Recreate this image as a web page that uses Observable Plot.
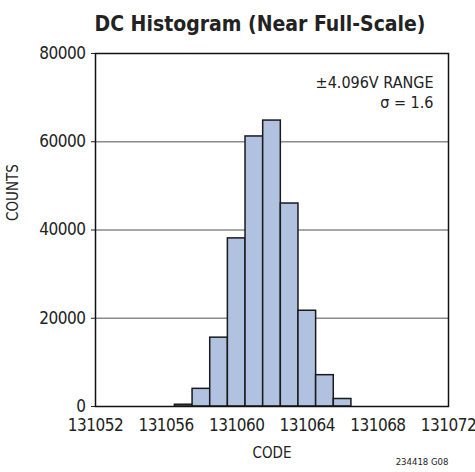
<!DOCTYPE html>
<html>
<head>
<meta charset="utf-8">
<script src="https://cdn.jsdelivr.net/npm/d3@7"></script>
<script src="https://cdn.jsdelivr.net/npm/@observablehq/plot@0.6"></script>
<style>
  html, body { margin: 0; padding: 0; background: #fff; }
  #chart svg { display: block; }
  #chart svg [aria-label$="tick label"] text { letter-spacing: -0.5px; }
</style>
</head>
<body>
<div id="chart"></div>
<script>
const codes = [131057, 131058, 131059, 131060, 131061, 131062, 131063, 131064, 131065, 131066];
const counts = [400, 4000, 15600, 38100, 61200, 64800, 46000, 21700, 7100, 1700];
const xTicks = [131052, 131056, 131060, 131064, 131068, 131072];
const yTicks = [0, 20000, 40000, 60000, 80000];
const gridLines = [20000, 40000, 60000];
const titleText = "DC Histogram (Near Full-Scale)";
const annotation = ["±4.096V RANGE", "σ = 1.6"];
const footnote = "234418 G08";

const bars = codes.map((c, i) => ({code: c, count: counts[i]}));
const font = "'DejaVu Sans Condensed', 'Liberation Sans Narrow', 'Liberation Sans', sans-serif";

const chart = Plot.plot({
  width: 475,
  height: 472,
  marginLeft: 95,
  marginRight: 27,
  marginTop: 53,
  marginBottom: 66,
  style: {fontFamily: font, fontSize: "17px", color: "#222", background: "#fff"},
  x: {domain: [131052, 131072], ticks: xTicks, tickFormat: d => String(d), tickSize: 0, tickPadding: 12, label: null},
  y: {domain: [0, 80000], ticks: yTicks, tickFormat: d => String(d), tickSize: 4, tickPadding: 6, label: null},
  marks: [
    Plot.ruleY(gridLines, {stroke: "#8a8a8a", strokeWidth: 1.5}),
    Plot.rectY(bars, {x1: d => d.code - 0.5, x2: d => d.code + 0.5, y1: 0, y2: "count", fill: "#b1c1e0", stroke: "#1a1a1a", strokeWidth: 1.5}),
    Plot.frame({stroke: "#111", strokeWidth: 1.5}),
    Plot.text([titleText], {frameAnchor: "top", dx: -12, dy: -37, fontSize: 21, fontWeight: "bold", fill: "#222"}),
    Plot.text([annotation[0]], {frameAnchor: "top-right", dx: -15, dy: 23, fontSize: 16, textAnchor: "end", fill: "#222"}),
    Plot.text([annotation[1]], {frameAnchor: "top-right", dx: -15, dy: 43, fontSize: 16, textAnchor: "end", fill: "#222"}),
    Plot.text(["CODE"], {frameAnchor: "bottom", dy: 51, fontSize: 15, fill: "#222"}),
    Plot.text(["COUNTS"], {frameAnchor: "left", dx: -82, dy: -9, rotate: -90, fontSize: 15, fill: "#222"}),
    Plot.text([footnote], {frameAnchor: "bottom-right", dx: 0, dy: 58, fontSize: 9.5, fill: "#222"})
  ]
});
document.getElementById("chart").appendChild(chart);
</script>
</body>
</html>
